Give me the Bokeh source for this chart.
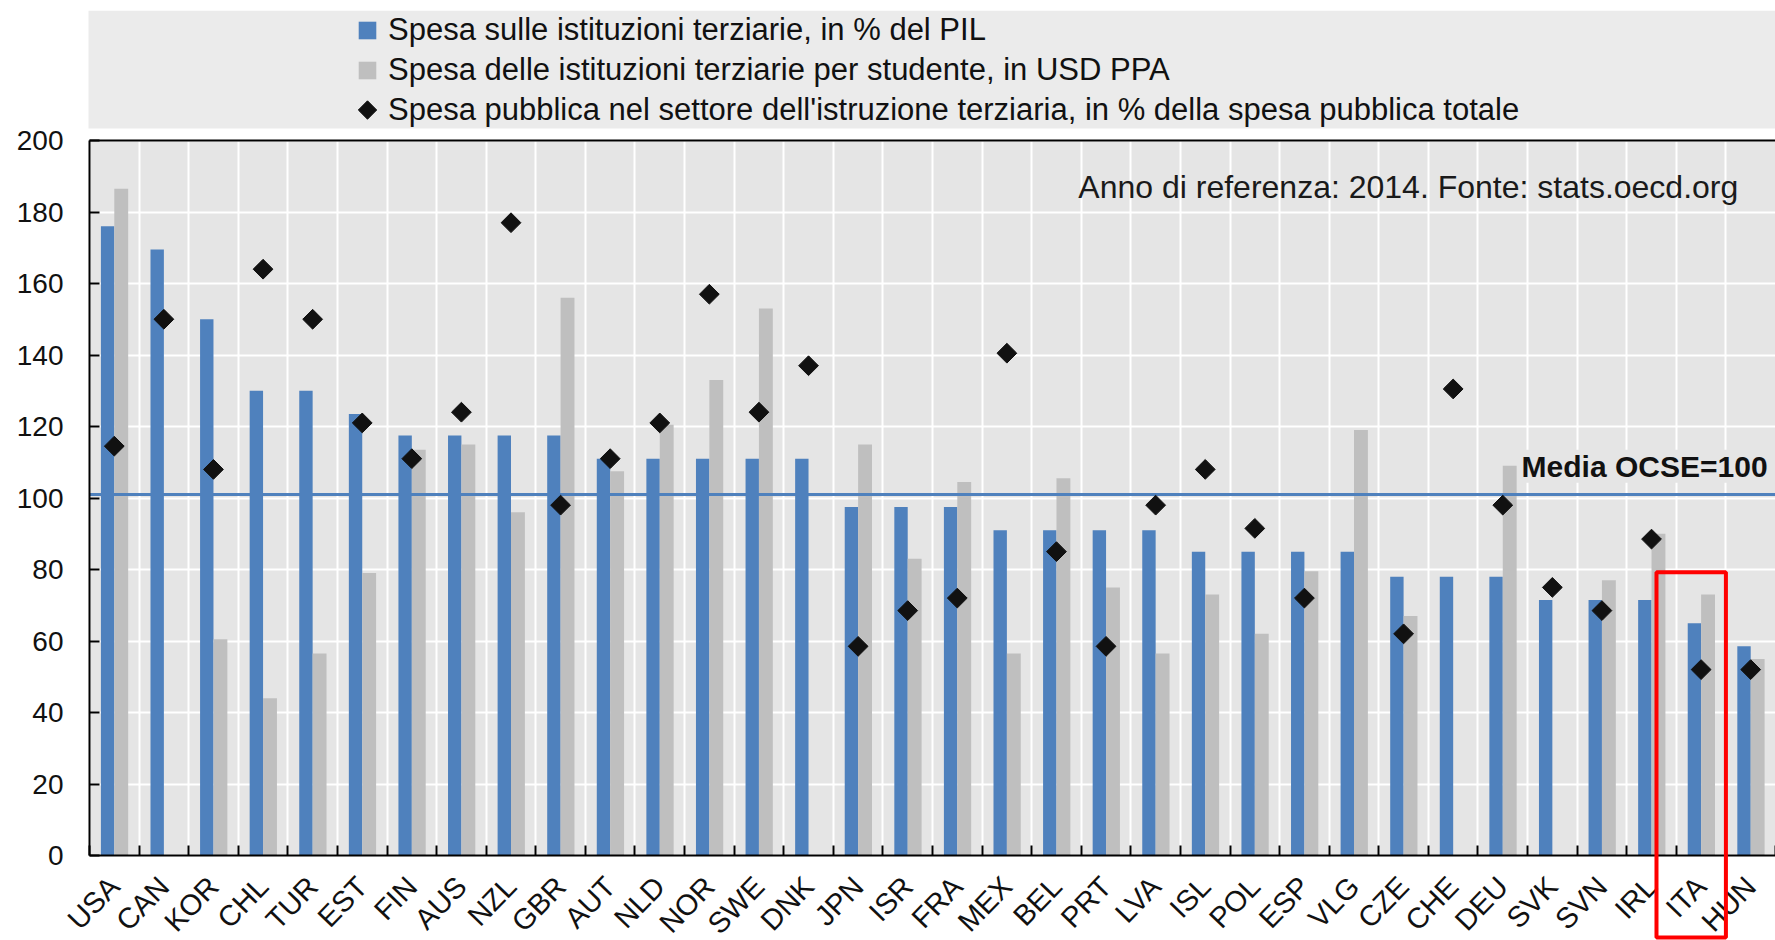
import numpy as np
from bokeh.plotting import figure
from bokeh.models import (Range1d, FixedTicker, Label, BoxAnnotation, Legend,
                          LegendItem, ColumnDataSource, CustomJSTickFormatter)
from bokeh.transform import dodge
from bokeh.embed import file_html
from bokeh.resources import INLINE

countries = ["USA", "CAN", "KOR", "CHL", "TUR", "EST", "FIN", "AUS", "NZL", "GBR",
             "AUT", "NLD", "NOR", "SWE", "DNK", "JPN", "ISR", "FRA", "MEX", "BEL",
             "PRT", "LVA", "ISL", "POL", "ESP", "VLG", "CZE", "CHE", "DEU", "SVK",
             "SVN", "IRL", "ITA", "HUN"]
nan = float("nan")
pil = [176, 169.5, 150, 130, 130, 123.5, 117.5, 117.5, 117.5, 117.5,
       111, 111, 111, 111, 111, 97.5, 97.5, 97.5, 91, 91,
       91, 91, 85, 85, 85, 85, 78, 78, 78, 71.5,
       71.5, 71.5, 65, 58.5]
usd = [186.5, nan, 60.5, 44, 56.5, 79, 113.5, 115, 96, 156,
       107.5, 120.5, 133, 153, nan, 115, 83, 104.5, 56.5, 105.5,
       75, 56.5, 73, 62, 79.5, 119, 67, nan, 109, nan,
       77, 90, 73, 55]
spesa = [114.5, 150, 108, 164, 150, 121, 111, 124, 177, 98,
         111, 121, 157, 124, 137, 58.5, 68.5, 72, 140.5, 85,
         58.5, 98, 108, 91.5, 72, nan, 62, 130.5, 98, 75,
         68.5, 88.5, 52, 52]
y_ticks = [0, 20, 40, 60, 80, 100, 120, 140, 160, 180, 200]
ocse_line = 101
labels_legend = ["Spesa sulle istituzioni terziarie, in % del PIL",
                 "Spesa delle istituzioni terziarie per studente, in USD PPA",
                 "Spesa pubblica nel settore dell'istruzione terziaria, in % della spesa pubblica totale"]
note = "Anno di referenza: 2014. Fonte: stats.oecd.org"
ocse_label = "Media OCSE=100"
highlight = "ITA"

n = len(countries)
BLUE = "#4f81bd"
GRAY = "#bfbfbf"
PLOT_BG = "#e5e5e5"
LEG_BG = "#ebebeb"
INK = "#111111"
FONT = "Liberation Sans"

# layout (canvas pixels)
W, H = 1775, 940
X0_PX = 89                          # canvas column of x=0 (left edge of plot area)
PXX = (W - X0_PX) / n               # pixels per category
Y200_PX, Y0_PX = 140, 855           # canvas rows of y=200 and y=0
PX = (Y0_PX - Y200_PX) / 200.0      # pixels per unit
TOP_PX = 10                         # top of legend box
LEG_BOTTOM_PX = 128


def y_at(px):
    return (Y0_PX - px) / PX


def x_at(px):
    return (px - X0_PX) / PXX


src = ColumnDataSource(dict(x=np.arange(n) + 0.5, pil=pil, usd=usd, spesa=spesa))

p = figure(width=W, height=H, x_range=Range1d(x_at(0), n), y_range=Range1d(y_at(H), y_at(TOP_PX)),
           output_backend="svg", toolbar_location=None,
           min_border_left=0, min_border_right=0, min_border_top=TOP_PX, min_border_bottom=0)
p.background_fill_color = "white"
p.border_fill_color = "white"
p.outline_line_color = None

# plot area background
p.add_layout(BoxAnnotation(left=0, right=n, bottom=0, top=200, fill_color=PLOT_BG,
                           fill_alpha=1, line_color=None, level="image"))

p.xgrid.ticker = FixedTicker(ticks=list(range(n + 1)))
p.xgrid.grid_line_color = "white"
p.xgrid.grid_line_width = 2
p.ygrid.ticker = FixedTicker(ticks=y_ticks)
p.ygrid.grid_line_color = "white"
p.ygrid.grid_line_width = 2

# legend box above the plot area (covers the grid lines there)
p.add_layout(BoxAnnotation(left=x_at(88), right=n, top=y_at(TOP_PX), bottom=y_at(LEG_BOTTOM_PX),
                           fill_color=LEG_BG, fill_alpha=1, line_color=None, level="underlay"))

xa = p.xaxis[0]
xa.fixed_location = 0
xa.bounds = (0, n)
xa.ticker = FixedTicker(ticks=list(np.arange(n) + 0.5), minor_ticks=list(range(n + 1)))
xa.formatter = CustomJSTickFormatter(args=dict(labels=countries),
                                     code="return labels[Math.floor(tick)] || '';")
xa.major_tick_line_color = None
xa.minor_tick_line_color = "black"
xa.minor_tick_line_width = 2
xa.minor_tick_in = 10
xa.minor_tick_out = 0
xa.axis_line_width = 2
xa.major_label_orientation = 0.8
xa.major_label_standoff = 20
xa.major_label_text_font = FONT
xa.major_label_text_font_size = "29px"
xa.major_label_text_color = INK

ya = p.yaxis[0]
ya.fixed_location = 0
ya.bounds = (0, 200)
ya.ticker = FixedTicker(ticks=y_ticks, minor_ticks=[])
ya.major_tick_in = 10
ya.major_tick_out = 0
ya.major_tick_line_width = 2
ya.minor_tick_line_color = None
ya.axis_line_width = 2
ya.major_label_standoff = 26
ya.major_label_text_font = FONT
ya.major_label_text_font_size = "28px"
ya.major_label_text_color = INK

# top border of the plot area
p.segment(x0=0, x1=n, y0=200, y1=200, line_color="black", line_width=2)

r1 = p.vbar(x=dodge("x", -0.135, range=p.x_range), top="pil", width=0.27,
            source=src, fill_color=BLUE, line_color=None)
r2 = p.vbar(x=dodge("x", 0.14, range=p.x_range), top="usd", width=0.28,
            source=src, fill_color=GRAY, line_color=None)

# OECD average line
p.segment(x0=0, x1=n, y0=ocse_line, y1=ocse_line, line_color=BLUE, line_width=3)

r3 = p.scatter(x="x", y="spesa", source=src, marker="square", angle=np.pi / 4,
               size=14, fill_color=INK, line_color=INK)

p.add_layout(Label(x=n - 0.16, y=104.3, text=ocse_label, text_align="right",
                   text_font=FONT, text_font_size="30px", text_font_style="bold",
                   text_color=INK, background_fill_color=PLOT_BG))
p.add_layout(Label(x=n - 0.75, y=182, text=note, text_align="right",
                   text_font=FONT, text_font_size="32px", text_color="#1a1a1a"))

# legend swatch for the diamond series (Bokeh draws legend markers unrotated and tiny)
r3_leg = p.scatter(x=[], y=[], marker="square", fill_alpha=0, line_alpha=0)
p.scatter(x=[x_at(367)], y=[y_at(109.5)], marker="square", angle=np.pi / 4, size=13,
          fill_color=INK, line_color=INK)

legend = Legend(items=[LegendItem(label=labels_legend[0], renderers=[r1]),
                       LegendItem(label=labels_legend[1], renderers=[r2]),
                       LegendItem(label=labels_legend[2], renderers=[r3_leg])],
                location=(356, 812), background_fill_alpha=0, border_line_color=None,
                padding=0, margin=0, spacing=4, glyph_width=22, glyph_height=22,
                label_standoff=10, label_text_font=FONT, label_text_font_size="31px",
                label_text_color=INK)
p.add_layout(legend)

# red highlight box around ITA
hi = countries.index(highlight)
p.add_layout(BoxAnnotation(left=hi - 0.4, right=hi + 1, top=79.2, bottom=y_at(937),
                           fill_alpha=0, line_color="red", line_alpha=1, line_width=4,
                           level="overlay"))

open("out.html", "w").write(file_html(p, INLINE))
